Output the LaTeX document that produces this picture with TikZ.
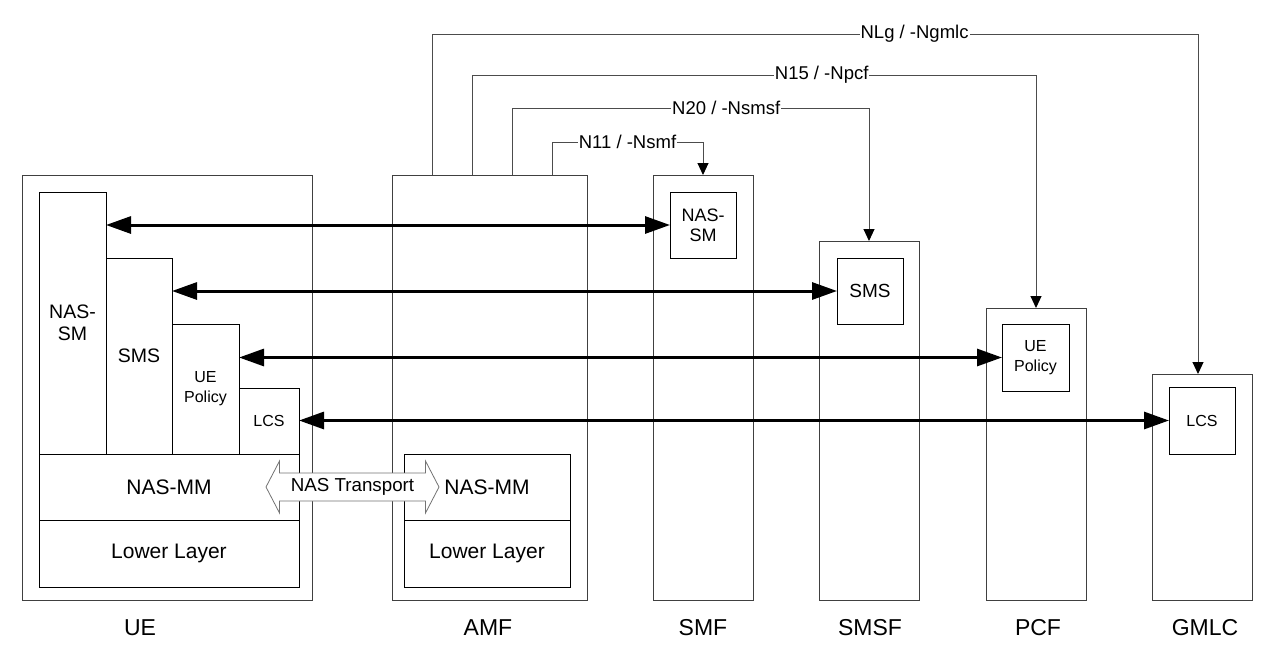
\documentclass[tikz,border=0pt]{standalone}
\usepackage{fontspec}
\setmainfont{Liberation Sans}
\usetikzlibrary{arrows.meta,calc}
\newcommand{\fs}[1]{\fontsize{#1pt}{#1pt}\selectfont}
\tikzset{
  outerbox/.style={draw=black!75, line width=1pt, inner sep=0pt, outer sep=0pt, anchor=north west},
  innerbox/.style={draw=black, line width=1pt, inner sep=0pt, outer sep=0pt, anchor=north west, align=center},
  bigarr/.style={line width=3pt, {Triangle[length=25pt,width=17pt]}-{Triangle[length=25pt,width=17pt]}},
  conn/.style={draw=black!70, line width=1pt, -{Triangle[length=12pt,width=11pt,color=black]}},
  lbl/.style={fill=white, inner sep=1pt, font=\fs{18.5}, text=black},
  nflab/.style={font=\fs{23}, inner sep=0pt},
}
\begin{document}
\begin{tikzpicture}[x=1pt,y=-1pt]
\useasboundingbox (0,0) rectangle (1277,653);
% UE
\node[outerbox, minimum width=290pt, minimum height=425pt] (ue) at (22,175) {};
\node[innerbox, minimum width=67pt, minimum height=262pt, font=\fs{19.5}] (uensm) at (39,192) {NAS-\\[2pt]SM};
\node[innerbox, minimum width=66pt, minimum height=196pt, font=\fs{19.5}] (uesms) at (106,258) {SMS};
\node[innerbox, minimum width=67pt, minimum height=130pt, font=\fs{16}] (uepol) at (172,324) {UE\\[4pt]Policy};
\node[innerbox, minimum width=60pt, minimum height=66pt, font=\fs{16}] (uelcs) at (239,388) {LCS};
\node[innerbox, minimum width=260pt, minimum height=66pt, font=\fs{21}] (uemm) at (39,454) {NAS-MM};
\node[innerbox, minimum width=260pt, minimum height=67pt, font=\fs{21}] (uell) at (39,520) {Lower Layer};
% AMF
\node[outerbox, minimum width=195pt, minimum height=425pt] (amf) at (392,175) {};
\node[innerbox, minimum width=166pt, minimum height=66pt, font=\fs{21}] (amfmm) at (404,454) {NAS-MM};
\node[innerbox, minimum width=166pt, minimum height=67pt, font=\fs{21}] (amfll) at (404,520) {Lower Layer};
% SMF
\node[outerbox, minimum width=100pt, minimum height=425pt] (smf) at (653,175) {};
\node[innerbox, minimum width=66pt, minimum height=66pt, font=\fs{18}] (smfnsm) at (670,192) {NAS-\\[2pt]SM};
% SMSF
\node[outerbox, minimum width=100pt, minimum height=359pt] (smsf) at (819,241) {};
\node[innerbox, minimum width=66pt, minimum height=66pt, font=\fs{19}] (smsfsms) at (837,258) {SMS};
% PCF
\node[outerbox, minimum width=100pt, minimum height=292pt] (pcf) at (986,308) {};
\node[innerbox, minimum width=67pt, minimum height=67pt, font=\fs{16}] (pcfpol) at (1002,324) {UE\\[4pt]Policy};
% GMLC
\node[outerbox, minimum width=100pt, minimum height=226pt] (gmlc) at (1152,374) {};
\node[innerbox, minimum width=66pt, minimum height=67pt, font=\fs{16}] (gmlclcs) at (1169,387) {LCS};
% bottom labels
\node[nflab] (lue) at (140,628) {UE};
\node[nflab] (lamf) at (488,628) {AMF};
\node[nflab] (lsmf) at (703,628) {SMF};
\node[nflab] (lsmsf) at (870,628) {SMSF};
\node[nflab] (lpcf) at (1038,628) {PCF};
\node[nflab] (lgmlc) at (1205,628) {GMLC};
% thick double arrows
\draw[bigarr] (smfnsm.west -| uensm.east) -- (smfnsm.west);
\draw[bigarr] (smsfsms.west -| uesms.east) -- (smsfsms.west);
\draw[bigarr] (pcfpol.west -| uepol.east) -- (pcfpol.west);
\draw[bigarr] (gmlclcs.west -| uelcs.east) -- (gmlclcs.west);
% NAS transport
\coordinate (nt) at (352.5,487);
\draw[draw=black!55, fill=white, line width=0.8pt]
  ($(nt)+(-86.5,0)$) -- ($(nt)+(-73,-26)$) -- ($(nt)+(-73,-14)$) -- ($(nt)+(73,-14)$) -- ($(nt)+(73,-26)$)
  -- ($(nt)+(86.5,0)$) -- ($(nt)+(73,26)$) -- ($(nt)+(73,14)$) -- ($(nt)+(-73,14)$) -- ($(nt)+(-73,26)$) -- cycle;
\node[font=\fs{18.75}, inner sep=0pt] (ntl) at (nt) {NAS Transport};
% top connectors
\coordinate (aNLg) at ([xshift=40pt]amf.north west);
\coordinate (aN15) at ([xshift=80pt]amf.north west);
\coordinate (aN20) at ([xshift=120pt]amf.north west);
\coordinate (aN11) at ([xshift=160pt]amf.north west);
\coordinate (gTop) at ([xshift=-4pt]gmlc.north);
\draw[conn] (aNLg) -- ++(0,-141) coordinate (cNLg) -- node[lbl, pos=0.63] {NLg / -Ngmlc} (cNLg -| gTop) -- (gTop);
\draw[conn] (aN15) -- ++(0,-100) coordinate (cN15) -- node[lbl, pos=0.62] {N15 / -Npcf} (cN15 -| pcf.north) -- (pcf.north);
\draw[conn] (aN20) -- ++(0,-67) coordinate (cN20) -- node[lbl, pos=0.60] {N20 / -Nsmsf} (cN20 -| smsf.north) -- (smsf.north);
\draw[conn] (aN11) -- ++(0,-33) coordinate (cN11) -- node[lbl, pos=0.50] {N11 / -Nsmf} (cN11 -| smf.north) -- (smf.north);
\end{tikzpicture}
\end{document}
